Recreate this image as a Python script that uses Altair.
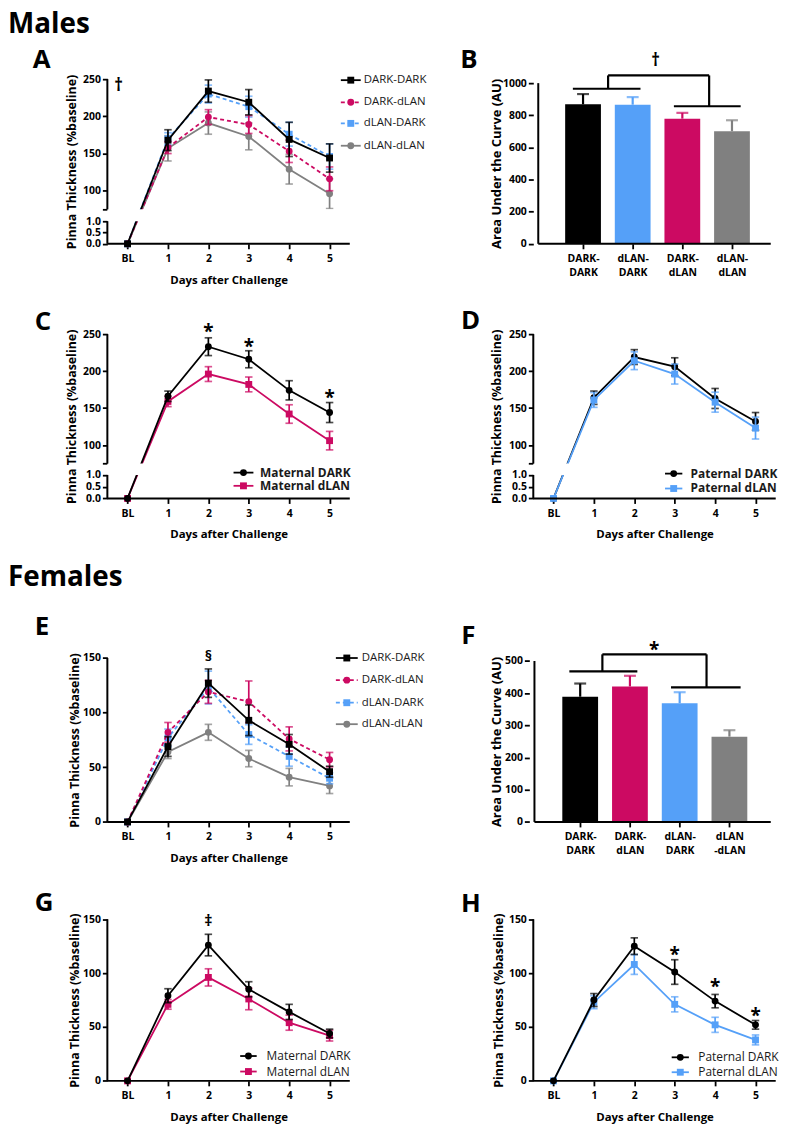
import json
import altair as alt
import pandas as pd

FONT = "Open Sans"
BLACK = "#000000"
MAGENTA = "#CC0A62"
BLUE = "#55A0F8"
GRAY = "#808080"
DASH = [4, 3]

# ---------------- data ----------------
DAYS = [0, 1, 2, 3, 4, 5]
DAY_LABELS = ["BL", "1", "2", "3", "4", "5"]

# Panel A – males, four groups (mean, SEM)
A_DD_MEAN = [0, 168, 234, 219, 169, 144]
A_DD_SEM = [0, 14, 15, 17, 23, 19]
A_DDL_MEAN = [0, 158, 199, 189, 153, 116]
A_DDL_SEM = [0, 8, 10, 12, 15, 16]
A_DLD_MEAN = [0, 170, 230, 213, 176, 146]
A_DLD_SEM = [0, 8, 12, 14, 16, 17]
A_DLDL_MEAN = [0, 157, 191, 173, 129, 96]
A_DLDL_SEM = [0, 17, 15, 18, 20, 20]

# Panel B – males AUC
B_GROUPS = ["DARK-DARK", "dLAN-DARK", "DARK-dLAN", "dLAN-dLAN"]
B_LABELS = [["DARK-", "DARK"], ["dLAN-", "DARK"], ["DARK-", "dLAN"], ["dLAN-", "dLAN"]]
B_AUC = [868, 866, 779, 701]
B_SEM = [64, 47, 36, 68]

# Panel C – males, maternal
C_DARK_MEAN = [0, 166, 233, 216, 174, 144]
C_DARK_SEM = [0, 7, 12, 11.5, 13, 13.5]
C_DLAN_MEAN = [0, 159, 196, 182, 142, 106]
C_DLAN_SEM = [0, 7, 10, 10, 12.5, 12.5]

# Panel D – males, paternal
D_DARK_MEAN = [0, 164, 219, 206, 163, 132]
D_DARK_SEM = [0, 9, 10, 12, 13.5, 12]
D_DLAN_MEAN = [0, 161, 214, 196, 158, 123]
D_DLAN_SEM = [0, 10, 12, 13.5, 13.5, 14.8]

# Panel E – females, four groups
E_DD_MEAN = [0, 69, 127, 93, 71, 46]
E_DD_SEM = [0, 9, 13, 14, 9, 5]
E_DDL_MEAN = [0, 82, 119, 110, 76, 57]
E_DDL_SEM = [0, 9, 10.5, 19, 11, 6.6]
E_DLD_MEAN = [0, 77, 123, 80, 60, 40]
E_DLD_SEM = [0, 8, 15, 9, 9, 5]
E_DLDL_MEAN = [0, 64, 82, 58, 41, 33]
E_DLDL_SEM = [0, 6, 7.3, 7.5, 8, 7]

# Panel F – females AUC
F_GROUPS = ["DARK-DARK", "DARK-dLAN", "dLAN-DARK", "dLAN-dLAN"]
F_LABELS = [["DARK-", "DARK"], ["DARK-", "dLAN"], ["dLAN-", "DARK"], ["dLAN", "-dLAN"]]
F_AUC = [389, 421, 369, 265]
F_SEM = [41, 33, 34, 20]

# Panel G – females, maternal
G_DARK_MEAN = [0, 79, 126, 85, 64, 44]
G_DARK_SEM = [0, 6.5, 10, 7, 7, 4]
G_DLAN_MEAN = [0, 71, 96, 76, 54, 42]
G_DLAN_SEM = [0, 4.5, 8, 10, 7, 5]

# Panel H – females, paternal
H_DARK_MEAN = [0, 75, 125, 101, 74, 52]
H_DARK_SEM = [0, 6, 7.7, 11.4, 6.2, 4]
H_DLAN_MEAN = [0, 73, 108, 71, 52, 38]
H_DLAN_SEM = [0, 6, 9.2, 7, 7, 4.6]

# ---------------- layout ----------------
PW = 244
ROW_H = [165.7, 165.4, 234.4, 169.4]
ROW_GAP = 90.6
COL_GAP = 184.7

DAY_EXPR = json.dumps(DAY_LABELS) + "[datum.value]"
BROKEN_EXPR = ("datum.value == 75 ? '' : (datum.value <= 1 ? format(datum.value, '.1f') "
               ": format(datum.value, 'd'))")


def y_axis(values, title, tx, ty, expr=None, offset=0, title_size=12.5):
    kw = dict(values=values, title=title, titleX=tx, titleY=ty, titleAngle=270,
              titleAlign="center", titleBaseline="middle", titleFont=FONT,
              titleFontSize=title_size, titleFontWeight="bold", titleColor="black",
              labelFont=FONT, labelFontSize=10.5, labelFontWeight="bold",
              labelColor="black", labelPadding=2, labelOverlap=False,
              labelFlush=False, labelBound=False, tickSize=5, tickWidth=1.8,
              tickColor="black", domain=False, grid=False, offset=offset, format="d")
    if expr:
        kw["labelExpr"] = expr
    return alt.Axis(**kw)


def x_axis(values, expr, title=None):
    kw = dict(values=values, labelExpr=expr, labelAngle=0, labelFont=FONT,
              labelFontSize=10.5, labelFontWeight="bold", labelColor="black",
              labelPadding=5, labelOverlap=False, labelFlush=False,
              labelLineHeight=14, tickSize=5, tickWidth=1.8, tickColor="black",
              domain=False, grid=False)
    if title:
        kw.update(title=title, titleX=PW / 2, titleY=36.5, titleAlign="center",
                  titleBaseline="middle", titleFont=FONT, titleFontSize=11.5,
                  titleFontWeight="bold", titleColor="black")
    else:
        kw["title"] = None
    return alt.Axis(**kw)


class Enc:
    """Shared x/y scales and axes for every layer of one panel."""
    def __init__(self, xs, ys, xax, yax):
        self.xs, self.ys, self.xax, self.yax = xs, ys, xax, yax

    def X(self, f):
        return alt.X(f, scale=self.xs, axis=self.xax)

    def Y(self, f, **kw):
        return alt.Y(f, scale=self.ys, axis=self.yax, **kw)


def seg_rules(segs, enc, width=2):
    df = pd.DataFrame(segs, columns=["x", "x2", "y", "y2"])
    return alt.Chart(df).mark_rule(color="black", strokeWidth=width).encode(
        x=enc.X("x:Q"), x2="x2:Q", y=enc.Y("y:Q"), y2="y2:Q")


def legend_layers(entries, sx0, sx1, tx, rows, fs, weight):
    out = []
    for (name, color, shape, dashed), yy in zip(entries, rows):
        d = alt.Chart(pd.DataFrame({"t": [name]}))
        rk = dict(color=color, strokeWidth=1.8)
        if dashed:
            rk["strokeDash"] = DASH
        out.append(d.mark_rule(**rk).encode(x=alt.value(sx0), x2=alt.value(sx1), y=alt.value(yy)))
        out.append(d.mark_point(shape=shape, filled=True, size=48, color=color, opacity=1)
                   .encode(x=alt.value((sx0 + sx1) / 2), y=alt.value(yy)))
        out.append(d.mark_text(align="left", baseline="middle", font=FONT, fontSize=fs,
                               fontWeight=weight, color="#1a1a1a")
                   .encode(x=alt.value(tx), y=alt.value(yy), text="t:N"))
    return out


def notes_layer(enc, xv, yv, texts, fs, dy):
    df = pd.DataFrame({"x": xv, "y": yv, "t": texts})
    return alt.Chart(df).mark_text(font=FONT, fontSize=fs, fontWeight="bold", color="black",
                                   dy=dy, baseline="alphabetic").encode(
        x=enc.X("x:Q"), y=enc.Y("y:Q"), text="t:N")


def pixel_text(text, x, y, fs, baseline="alphabetic"):
    return alt.Chart(pd.DataFrame({"t": [text]})).mark_text(
        align="left", baseline=baseline, font=FONT, fontSize=fs, fontWeight="bold",
        color="black").encode(x=alt.value(x), y=alt.value(y), text="t:N")


def line_panel(series, height, ys, yticks, yexpr, yaxis_segs, tx, ty, legend, notes,
               texts, mask=None):
    xs = alt.Scale(domain=[-0.5, 5.5], nice=False, zero=False)
    enc = Enc(xs, ys, x_axis(DAYS, DAY_EXPR, "Days after Challenge"),
              y_axis(yticks, "Pinna Thickness (%baseline)", tx, ty, expr=yexpr))
    layers = []
    for name, mean, sem, color, shape, dashed in series:
        df = pd.DataFrame({"day": DAYS, "mean": mean, "sem": sem})
        df["lo"] = df["mean"] - df["sem"]
        df["hi"] = df["mean"] + df["sem"]
        c = alt.Chart(df)
        lk = dict(color=color, strokeWidth=1.8)
        if dashed:
            lk["strokeDash"] = DASH
        layers.append(c.mark_line(**lk).encode(x=enc.X("day:Q"), y=enc.Y("mean:Q")))
        e = c.transform_filter("datum.day > 0")
        layers.append(e.mark_rule(color=color, strokeWidth=1.7).encode(
            x=enc.X("day:Q"), y=enc.Y("lo:Q"), y2="hi:Q"))
        for f in ("lo", "hi"):
            layers.append(e.mark_tick(orient="horizontal", color=color, size=7.5, thickness=1.7)
                          .encode(x=enc.X("day:Q"), y=enc.Y(f + ":Q")))
        layers.append(c.mark_point(shape=shape, filled=True, size=48, color=color, opacity=1)
                      .encode(x=enc.X("day:Q"), y=enc.Y("mean:Q")))
    if mask:
        mdf = pd.DataFrame({"x": [-0.5], "x2": [5.5], "y": [mask[0]], "y2": [mask[1]]})
        layers.append(alt.Chart(mdf).mark_rect(color="white").encode(
            x=enc.X("x:Q"), x2="x2:Q", y=enc.Y("y:Q"), y2="y2:Q"))
    layers.append(seg_rules(yaxis_segs + [(-0.5, 5.5, 0, 0)], enc))
    layers += legend
    for n in notes:
        layers.append(notes_layer(enc, *n))
    layers += texts
    return alt.layer(*layers).properties(width=PW, height=height)


def bar_panel(groups, labels, values, sems, colors, height, xdom, ymax, yvis, yticks,
              offset, tx, ty, brackets, note, texts):
    xs = alt.Scale(domain=xdom, nice=False, zero=False)
    ys = alt.Scale(domain=[0, ymax], nice=False, zero=False)
    enc = Enc(xs, ys, x_axis(list(range(len(groups))), json.dumps(labels) + "[datum.value]"),
              y_axis(yticks, "Area Under the Curve (AU)", tx, ty, offset=offset, title_size=13))
    df = pd.DataFrame({"pos": list(range(len(groups))), "grp": groups, "auc": values, "sem": sems})
    df["hi"] = df["auc"] + df["sem"]
    color = alt.Color("grp:N", scale=alt.Scale(domain=groups, range=colors), legend=None)
    c = alt.Chart(df)
    bars = c.mark_bar(size=36, orient="vertical").encode(
        x=enc.X("pos:Q"), y=enc.Y("auc:Q", stack=None), color=color)
    err = c.mark_rule(strokeWidth=2.2).encode(
        x=enc.X("pos:Q"), y=enc.Y("auc:Q"), y2="hi:Q", color=color)
    cap = c.mark_tick(orient="horizontal", size=12, thickness=2.2).encode(
        x=enc.X("pos:Q"), y=enc.Y("hi:Q"), color=color)
    step = PW / (xdom[1] - xdom[0])
    x_axis_pos = xdom[0] - offset / step
    axes = seg_rules([(x_axis_pos, x_axis_pos, 0, yvis), (x_axis_pos, xdom[1], 0, 0)], enc)
    br = seg_rules(brackets, enc, width=2.2)
    layers = [bars, err, cap, axes, br, notes_layer(enc, *note)] + texts
    return alt.layer(*layers).properties(width=PW, height=height)


# ---------------- panels ----------------
A_SERIES = [
    ("dLAN-dLAN", A_DLDL_MEAN, A_DLDL_SEM, GRAY, "circle", False),
    ("dLAN-DARK", A_DLD_MEAN, A_DLD_SEM, BLUE, "square", True),
    ("DARK-dLAN", A_DDL_MEAN, A_DDL_SEM, MAGENTA, "circle", True),
    ("DARK-DARK", A_DD_MEAN, A_DD_SEM, BLACK, "square", False),
]
LEG4 = [("DARK-DARK", BLACK, "square", False), ("DARK-dLAN", MAGENTA, "circle", True),
        ("dLAN-DARK", BLUE, "square", True), ("dLAN-dLAN", GRAY, "circle", False)]
BROKEN_TICKS = [0, 0.5, 1, 75, 100, 150, 200, 250]
BROKEN_SEGS = [(-0.5, -0.5, 0, 1), (-0.5, -0.5, 75, 250)]

ys_A = alt.Scale(domain=[0, 1, 75, 250], range=[165.7, 143, 131, 0], nice=False, zero=False)
A = line_panel(A_SERIES, ROW_H[0], ys_A, BROKEN_TICKS, BROKEN_EXPR, BROKEN_SEGS, -36.3, 82.85,
               legend_layers(LEG4, 235, 255, 258, [1, 23.3, 44.5, 67], 11.5, "normal"),
               [([-0.22], [240], ["†"], 17, 4.5)],
               [pixel_text("Males", -100, -68, 28, baseline="top"),
                pixel_text("A", -75, -11, 26)],
               mask=(1, 75))

B = bar_panel(B_GROUPS, B_LABELS, B_AUC, B_SEM, [BLACK, BLUE, MAGENTA, GRAY], ROW_H[0],
              [-0.902, 3.781], 165.7 / 0.1617, 1000, [0, 200, 400, 600, 800, 1000], 0,
              -36.7, 84.85,
              [(-0.205, 1.157, 965, 965), (1.83, 3.175, 856, 856), (0.505, 2.54, 1048, 1048),
               (0.505, 0.505, 965, 1048), (2.54, 2.54, 856, 1048)],
              ([1.464], [1136], ["†"], 17, 4.5),
              [pixel_text("B", -73.4, -11, 26)])

C_SERIES = [
    ("Maternal dLAN", C_DLAN_MEAN, C_DLAN_SEM, MAGENTA, "square", False),
    ("Maternal DARK", C_DARK_MEAN, C_DARK_SEM, BLACK, "circle", False),
]
ys_C = alt.Scale(domain=[0, 1, 75, 250], range=[165.4, 141.7, 130.3, 0], nice=False, zero=False)
C = line_panel(C_SERIES, ROW_H[1], ys_C, BROKEN_TICKS, BROKEN_EXPR, BROKEN_SEGS, -36.3, 82.7,
               legend_layers([("Maternal DARK", BLACK, "circle", False),
                              ("Maternal dLAN", MAGENTA, "square", False)],
                             127, 147, 153.7, [139.4, 152.7], 12, "bold"),
               [([2, 3, 5], [259.8, 238.7, 170.2], ["*", "*", "*"], 19, 11)],
               [pixel_text("C", -73, -4, 26)],
               mask=(1, 75))

D_SERIES = [
    ("Paternal DARK", D_DARK_MEAN, D_DARK_SEM, BLACK, "circle", False),
    ("Paternal dLAN", D_DLAN_MEAN, D_DLAN_SEM, BLUE, "square", False),
]
D = line_panel(D_SERIES, ROW_H[1], ys_C, BROKEN_TICKS, BROKEN_EXPR, BROKEN_SEGS, -37.4, 82.7,
               legend_layers([("Paternal DARK", BLACK, "circle", False),
                              ("Paternal dLAN", BLUE, "square", False)],
                             132.6, 150, 158.3, [140.4, 155.4], 12, "bold"),
               [],
               [pixel_text("D", -72.7, -5.6, 26)],
               mask=(1, 75))

E_SERIES = [
    ("dLAN-dLAN", E_DLDL_MEAN, E_DLDL_SEM, GRAY, "circle", False),
    ("dLAN-DARK", E_DLD_MEAN, E_DLD_SEM, BLUE, "square", True),
    ("DARK-dLAN", E_DDL_MEAN, E_DDL_SEM, MAGENTA, "circle", True),
    ("DARK-DARK", E_DD_MEAN, E_DD_SEM, BLACK, "square", False),
]
ys_E = alt.Scale(domain=[0, ROW_H[2] / 1.1], nice=False, zero=False)
E = line_panel(E_SERIES, ROW_H[2], ys_E, [0, 50, 100, 150], None, [(-0.5, -0.5, 0, 150)],
               -33, 151.9,
               legend_layers(LEG4, 230, 252, 256, [69.4, 91.7, 114.4, 136], 11.5, "normal"),
               [([2], [151.5], ["§"], 15, 4.5)],
               [pixel_text("Females", -100, -25.3, 28, baseline="top"),
                pixel_text("E", -73, 46.7, 26)])

F = bar_panel(F_GROUPS, F_LABELS, F_AUC, F_SEM, [BLACK, MAGENTA, BLUE, GRAY], ROW_H[2],
              [-0.843, 3.831], ROW_H[2] / 0.324, 500, [0, 100, 200, 300, 400, 500], 4,
              -32.7, 153.4,
              [(-0.218, 1.149, 468, 468), (1.826, 3.225, 418, 418), (0.446, 2.54, 520.7, 520.7),
               (0.446, 0.446, 468, 520.7), (2.54, 2.54, 418, 520.7)],
              ([1.487], [548.5], ["*"], 19, 11),
              [pixel_text("F", -72.4, 55, 26)])

G_SERIES = [
    ("Maternal dLAN", G_DLAN_MEAN, G_DLAN_SEM, MAGENTA, "square", False),
    ("Maternal DARK", G_DARK_MEAN, G_DARK_SEM, BLACK, "circle", False),
]
ys_G = alt.Scale(domain=[0, ROW_H[3] / 1.0847], nice=False, zero=False)
G = line_panel(G_SERIES, ROW_H[3], ys_G, [0, 50, 100, 150], None, [(-0.5, -0.5, 0, 150)],
               -33, 88.1,
               legend_layers([("Maternal DARK", BLACK, "circle", False),
                              ("Maternal dLAN", MAGENTA, "square", False)],
                             133.7, 150.3, 160.3, [144.4, 160], 12, "normal"),
               [([2], [147.2], ["‡"], 16, 4.2)],
               [pixel_text("G", -73, -1.6, 26)])

H_SERIES = [
    ("Paternal dLAN", H_DLAN_MEAN, H_DLAN_SEM, BLUE, "square", False),
    ("Paternal DARK", H_DARK_MEAN, H_DARK_SEM, BLACK, "circle", False),
]
H = line_panel(H_SERIES, ROW_H[3], ys_G, [0, 50, 100, 150], None, [(-0.5, -0.5, 0, 150)],
               -35, 88.1,
               legend_layers([("Paternal DARK", BLACK, "circle", False),
                              ("Paternal dLAN", BLUE, "square", False)],
                             139.3, 156.6, 166, [145.7, 160.7], 12, "normal"),
               [([3, 4, 5], [121.7, 91.6, 64.9], ["*", "*", "*"], 19, 11)],
               [pixel_text("H", -72.7, -0.6, 26)])

chart = alt.concat(
    A, B, C, D, E, F, G, H, columns=2,
    spacing={"row": ROW_GAP, "column": COL_GAP}, bounds="flush",
).properties(padding=0).configure_view(stroke=None)

chart.save("out.html", embed_options={"renderer": "svg", "actions": False})
